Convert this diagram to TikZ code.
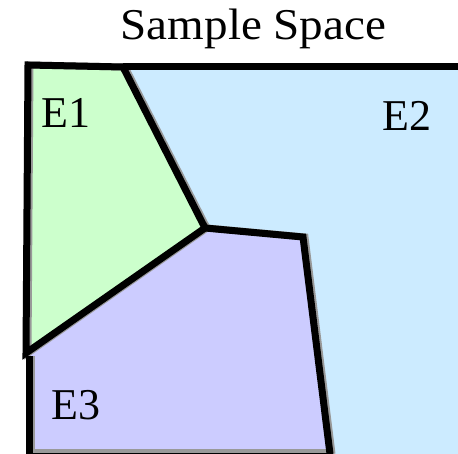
\documentclass[tikz,border=0pt]{standalone}
\usepackage{fontspec}
\newfontfamily\serifface{Liberation Serif}

\begin{document}
\begin{tikzpicture}[
    x=1pt, y=-1pt,
    e1area/.style={fill={rgb,255:red,204;green,255;blue,204}},
    e2area/.style={fill={rgb,255:red,204;green,235;blue,255}},
    e3area/.style={fill={rgb,255:red,204;green,204;blue,255}},
    region/.style={draw=black, line width=7pt, line join=miter},
    edgeshadow/.style={draw=black!40, line width=7pt, line join=miter, shift={(2,0)}},
    lbl/.style={font=\fontsize{44}{48}\selectfont},
]
\useasboundingbox (0,0) rectangle (458,454);

% ============================================================ the three events
\fill[e2area] (123,67) -- (458,67) -- (458,454) -- (330,454) -- (303,237) -- (205,228) -- cycle;
\fill[e1area] (28,65) -- (123,67) -- (205,228) -- (26,353) -- cycle;
\fill[e3area] (29,356) -- (205,228) -- (303,237) -- (330,454) -- (29,454) -- cycle;

% soft grey edge under every border
\draw[edgeshadow] (28,65) -- (123,67) -- (205,228) -- (26,353) -- cycle;
\draw[edgeshadow] (123,67) -- (456,67);
\draw[edgeshadow] (205,228) -- (303,237) -- (330,454);
\draw[edgeshadow] (29,356) -- (29,454);
\draw[edgeshadow] (27,452) -- (330,452);

% borders
\draw[region] (28,65) -- (123,67) -- (205,228) -- (26,353) -- cycle;
\draw[region] (123,67) -- (458,67);
\draw[region] (205,228) -- (303,237) -- (330,454);
\draw[region] (29,356) -- (29,454);
\draw[region] (26,456) -- (333,456);

% ============================================================ labels
\node[lbl, anchor=base] (title) at (253.5,40) {\serifface\scalebox{1.07}[1]{Sample Space}};
\node[lbl, anchor=base west, inner sep=0pt] (e1) at (41,128) {\serifface E1};
\node[lbl, anchor=base west, inner sep=0pt] (e2) at (382,131) {\serifface E2};
\node[lbl, anchor=base west, inner sep=0pt] (e3) at (51,419) {\serifface E3};

\end{tikzpicture}
\end{document}
